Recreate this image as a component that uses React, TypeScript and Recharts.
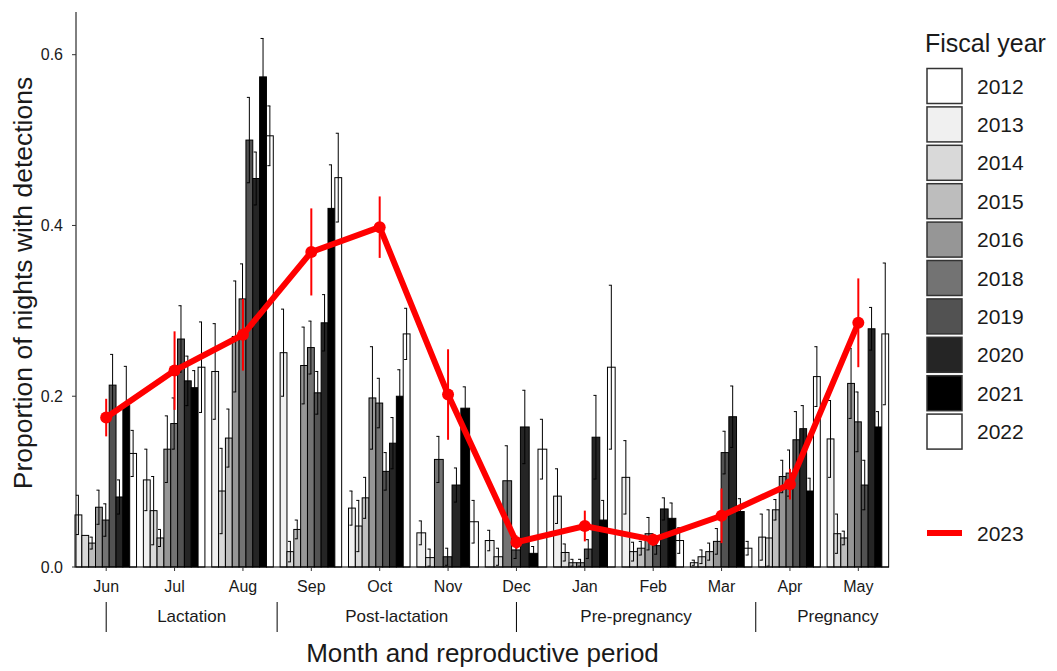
import React from 'react';
import { ComposedChart, Bar, Line, XAxis, YAxis, ErrorBar } from 'recharts';

const FONT = "'Liberation Sans', Arial, Helvetica, sans-serif";

// ---------- data ----------
const MONTHS = ['Jun', 'Jul', 'Aug', 'Sep', 'Oct', 'Nov', 'Dec', 'Jan', 'Feb', 'Mar', 'Apr', 'May'];
const YEARS = ['2012', '2013', '2014', '2015', '2016', '2018', '2019', '2020', '2021', '2022'];
const YEAR_COLORS = ['#ffffff', '#f0f0f0', '#d9d9d9', '#bdbdbd', '#969696', '#737373', '#525252', '#252525', '#000000', '#ffffff'];

// proportion of nights with detections, Jun..May (null = no data that month)
const P2012 = [null, null, null, null, null, null, null, null, null, null, null, null];
const P2013 = [0.061, 0.102, 0.229, 0.251, 0.069, 0.040, 0.031, 0.083, 0.105, 0.005, 0.035, 0.150];
const P2014 = [0.037, 0.066, 0.089, 0.018, 0.048, 0.011, 0.012, 0.017, 0.018, 0.012, 0.034, 0.039];
const P2015 = [0.028, 0.034, 0.151, 0.044, 0.081, null, null, 0.005, 0.022, 0.018, 0.067, 0.034];
const P2016 = [0.070, 0.138, 0.270, 0.236, 0.198, null, null, 0.005, 0.039, 0.030, 0.106, 0.215];
const P2018 = [0.055, 0.168, 0.314, 0.257, 0.192, 0.126, 0.101, null, null, null, 0.110, 0.170];
const P2019 = [0.213, 0.267, 0.500, 0.204, 0.112, 0.012, 0.020, 0.021, 0.025, 0.134, 0.149, 0.096];
const P2020 = [0.082, 0.218, 0.455, 0.286, 0.145, 0.096, 0.164, 0.152, 0.068, 0.176, 0.162, 0.279];
const P2021 = [0.189, 0.210, 0.574, 0.420, 0.200, 0.186, 0.016, 0.055, 0.057, 0.065, 0.089, 0.164];
const P2022 = [0.133, 0.234, 0.505, 0.456, 0.273, 0.053, 0.138, 0.234, 0.031, 0.022, 0.223, 0.273];

// standard errors
const E2012 = [null, null, null, null, null, null, null, null, null, null, null, null];
const E2013 = [0.023, 0.036, 0.056, 0.051, 0.020, 0.014, 0.012, 0.032, 0.043, 0.003, 0.027, 0.045];
const E2014 = [0.000, 0.040, 0.050, 0.012, 0.030, 0.010, 0.010, 0.010, 0.011, 0.008, 0.033, 0.023];
const E2015 = [0.007, 0.010, 0.034, 0.011, 0.024, null, null, 0.004, 0.008, 0.010, 0.012, 0.008];
const E2016 = [0.020, 0.039, 0.065, 0.045, 0.060, null, null, 0.004, 0.019, 0.015, 0.019, 0.041];
const E2018 = [0.019, 0.030, 0.041, 0.031, 0.029, 0.027, 0.041, null, null, null, 0.027, 0.035];
const E2019 = [0.036, 0.039, 0.050, 0.025, 0.022, 0.010, 0.010, 0.011, 0.010, 0.025, 0.033, 0.029];
const E2020 = [0.020, 0.029, 0.031, 0.033, 0.030, 0.020, 0.043, 0.049, 0.013, 0.036, 0.027, 0.025];
const E2021 = [0.046, 0.020, 0.045, 0.051, 0.031, 0.025, 0.008, 0.023, 0.018, 0.015, 0.015, 0.018];
const E2022 = [0.027, 0.053, 0.035, 0.052, 0.030, 0.025, 0.035, 0.096, 0.015, 0.008, 0.035, 0.083];

// fiscal year 2023 (red line)
const V2023 = [0.175, 0.230, 0.272, 0.369, 0.398, 0.202, 0.029, 0.048, 0.032, 0.060, 0.097, 0.286];
const E2023 = [0.022, 0.046, 0.042, 0.051, 0.036, 0.053, 0.008, 0.018, 0.007, 0.032, 0.018, 0.052];

const Y_TICKS = [0, 0.2, 0.4, 0.6];
const Y_MAX = 0.65;

const PERIODS = [
  { name: 'Lactation', from: 0, to: 2.5 },
  { name: 'Post-lactation', from: 2.5, to: 6 },
  { name: 'Pre-pregnancy', from: 6, to: 9.5 },
  { name: 'Pregnancy', from: 9.5, to: 11.9 },
];

const VALUES: Record<string, (number | null)[]> = {
  '2012': P2012, '2013': P2013, '2014': P2014, '2015': P2015, '2016': P2016,
  '2018': P2018, '2019': P2019, '2020': P2020, '2021': P2021, '2022': P2022,
};
const ERRORS: Record<string, (number | null)[]> = {
  '2012': E2012, '2013': E2013, '2014': E2014, '2015': E2015, '2016': E2016,
  '2018': E2018, '2019': E2019, '2020': E2020, '2021': E2021, '2022': E2022,
};

const DATA = MONTHS.map((m, i) => {
  const row: any = { month: m, v2023: V2023[i], e2023: E2023[i] };
  YEARS.forEach((yr) => {
    row[`y${yr}`] = VALUES[yr][i];
    row[`e${yr}`] = ERRORS[yr][i];
  });
  return row;
});

// ---------- layout constants ----------
const CHART_W = 1041;
const CHART_H = 660;
const MARGIN = { top: 4, right: 160, bottom: 0, left: 0 };
const Y_AXIS_W = 68;
const PAD_L = -4;
const PAD_R = -3.5;
const PLOT_W = CHART_W - MARGIN.left - MARGIN.right - Y_AXIS_W;
const BAND = (PLOT_W - PAD_L - PAD_R) / MONTHS.length;
const BAR_W = (0.9 * BAND) / YEARS.length;

// bars dodged like ggplot: the years present in a month share the group width
function makeDodgeShape(k: number) {
  return (props: any) => {
    const { x, y, width, height, payload, background } = props;
    const yr = YEARS[k];
    const v = payload ? payload[`y${yr}`] : null;
    if (v == null || !isFinite(x)) return <g />;
    const err = payload[`e${yr}`] || 0;
    const present = YEARS.filter((yy) => payload[`y${yy}`] != null);
    const n = present.length;
    const r = present.indexOf(yr);
    const groupLeft = x - k * width;
    const groupW = width * YEARS.length;
    const w = groupW / n;
    const bx = groupLeft + r * w;
    let base: number;
    let pxPerUnit: number;
    if (background && isFinite(background.height)) {
      base = background.y + background.height;
      pxPerUnit = background.height / Y_MAX;
    } else {
      base = y + height;
      pxPerUnit = height / v;
    }
    const sy = (val: number) => base - val * pxPerUnit;
    const top = sy(v);
    const cx = bx + w / 2;
    const eT = sy(v + err);
    const eB = sy(Math.max(0, v - err));
    return (
      <g>
        <rect x={bx} y={top} width={w} height={base - top} fill={YEAR_COLORS[k]} stroke="#000" strokeWidth={1} />
        {err > 0 && (
          <g stroke="#000" strokeWidth={1}>
            <line x1={cx} x2={cx} y1={eT} y2={eB} />
            <line x1={cx - 2.5} x2={cx + 0.5} y1={eT} y2={eT} />
            <line x1={cx - 2.5} x2={cx + 0.5} y1={eB} y2={eB} />
          </g>
        )}
      </g>
    );
  };
}

const PeriodTick = (props: any) => {
  const { x, y, payload } = props;
  const i = MONTHS.indexOf(payload.value);
  const parts: React.ReactNode[] = [];
  PERIODS.forEach((p, j) => {
    if (Math.floor(p.from) === i) {
      const sx = x + (p.from - i) * BAND;
      parts.push(<line key={`s${j}`} x1={sx} x2={sx} y1={y + 7} y2={y + 37} stroke="#000" strokeWidth={1} />);
    }
    const c = (p.from + p.to) / 2;
    if (Math.floor(c) === i) {
      parts.push(
        <text key={`t${j}`} x={x + (c - i) * BAND} y={y + 21} textAnchor="middle" dominantBaseline="central"
          fontSize={17} fill="#1a1a1a" fontFamily={FONT}>{p.name}</text>
      );
    }
  });
  return <g>{parts}</g>;
};

const YTitle = (props: any) => {
  const vb = props.viewBox || { y: 4, height: 555 };
  const cx = 15;
  const cy = vb.y + vb.height / 2 - 6.5;
  return (
    <text x={cx} y={cy} transform={`rotate(-90, ${cx}, ${cy})`} textAnchor="middle" dominantBaseline="central"
      fontSize={26.5} fill="#1a1a1a" fontFamily={FONT}>Proportion of nights with detections</text>
  );
};

const FiscalLegend = () => {
  const keyTop = 60.5;
  const step = 38.4;
  const size = 35;
  return (
    <svg width={132} height={560} style={{ position: 'absolute', left: 917, top: 0, display: 'block' }}>
      <text x={0} y={44} fontSize={25} fill="#1a1a1a" fontFamily={FONT}>Fiscal year</text>
      {YEARS.map((yr, i) => (
        <g key={yr}>
          <rect x={2} y={keyTop + i * step} width={size} height={size} fill={YEAR_COLORS[i]} stroke="#333" strokeWidth={1.5} />
          <text x={52} y={keyTop + i * step + size / 2} dominantBaseline="central" fontSize={21} fill="#1a1a1a" fontFamily={FONT}>{yr}</text>
        </g>
      ))}
      <line x1={2} x2={37} y1={525} y2={525} stroke="#ff0000" strokeWidth={6} />
      <text x={52} y={525} dominantBaseline="central" fontSize={21} fill="#1a1a1a" fontFamily={FONT}>2023</text>
    </svg>
  );
};

export default function App() {
  return (
    <div style={{ position: 'relative', width: CHART_W, height: CHART_H, fontFamily: FONT }}>
      <ComposedChart width={CHART_W} height={CHART_H} data={DATA} margin={MARGIN}
        barSize={BAR_W} barGap={0} barCategoryGap={0}>
        <XAxis xAxisId="m" dataKey="month" interval={0} padding={{ left: PAD_L, right: PAD_R }} height={28}
          axisLine={{ stroke: '#000' }} tickLine={{ stroke: '#333' }} tickSize={4} tickMargin={10}
          tick={{ fontSize: 16, fill: '#1a1a1a', fontFamily: FONT }} />
        <XAxis xAxisId="p" dataKey="month" interval={0} padding={{ left: PAD_L, right: PAD_R }} height={73}
          axisLine={false} tickLine={false} tickSize={0} tickMargin={0} tick={<PeriodTick />}
          label={{ value: 'Month and reproductive period', position: 'insideBottom', offset: 6, fontSize: 26, fill: '#1a1a1a', fontFamily: FONT }} />
        <XAxis xAxisId="t" dataKey="month" orientation="top" height={0} tick={false} tickLine={false}
          axisLine={{ stroke: '#000' }} />
        <YAxis yAxisId="l" domain={[0, Y_MAX]} ticks={Y_TICKS} width={Y_AXIS_W} interval={0}
          tickFormatter={(v: number) => v.toFixed(1)} axisLine={{ stroke: '#000' }} tickLine={{ stroke: '#333' }}
          tickSize={4} tickMargin={9} tick={{ fontSize: 16, fill: '#1a1a1a', fontFamily: FONT }}
          label={<YTitle />} />
        <YAxis yAxisId="r" orientation="right" domain={[0, Y_MAX]} width={0} tick={false} tickLine={false}
          axisLine={{ stroke: '#000' }} />
        {YEARS.map((yr, k) => (
          <Bar key={yr} xAxisId="m" yAxisId="l" dataKey={`y${yr}`} name={yr} shape={makeDodgeShape(k)}
            isAnimationActive={false} />
        ))}
        <Line xAxisId="m" yAxisId="l" dataKey="v2023" name="2023" type="linear" stroke="#ff0000" strokeWidth={6}
          dot={{ r: 6, fill: '#ff0000', stroke: '#ff0000', strokeWidth: 0 }} activeDot={false} isAnimationActive={false}>
          <ErrorBar dataKey="e2023" width={0} stroke="#ff0000" strokeWidth={2} direction="y" isAnimationActive={false} />
        </Line>
      </ComposedChart>
      <FiscalLegend />
    </div>
  );
}
